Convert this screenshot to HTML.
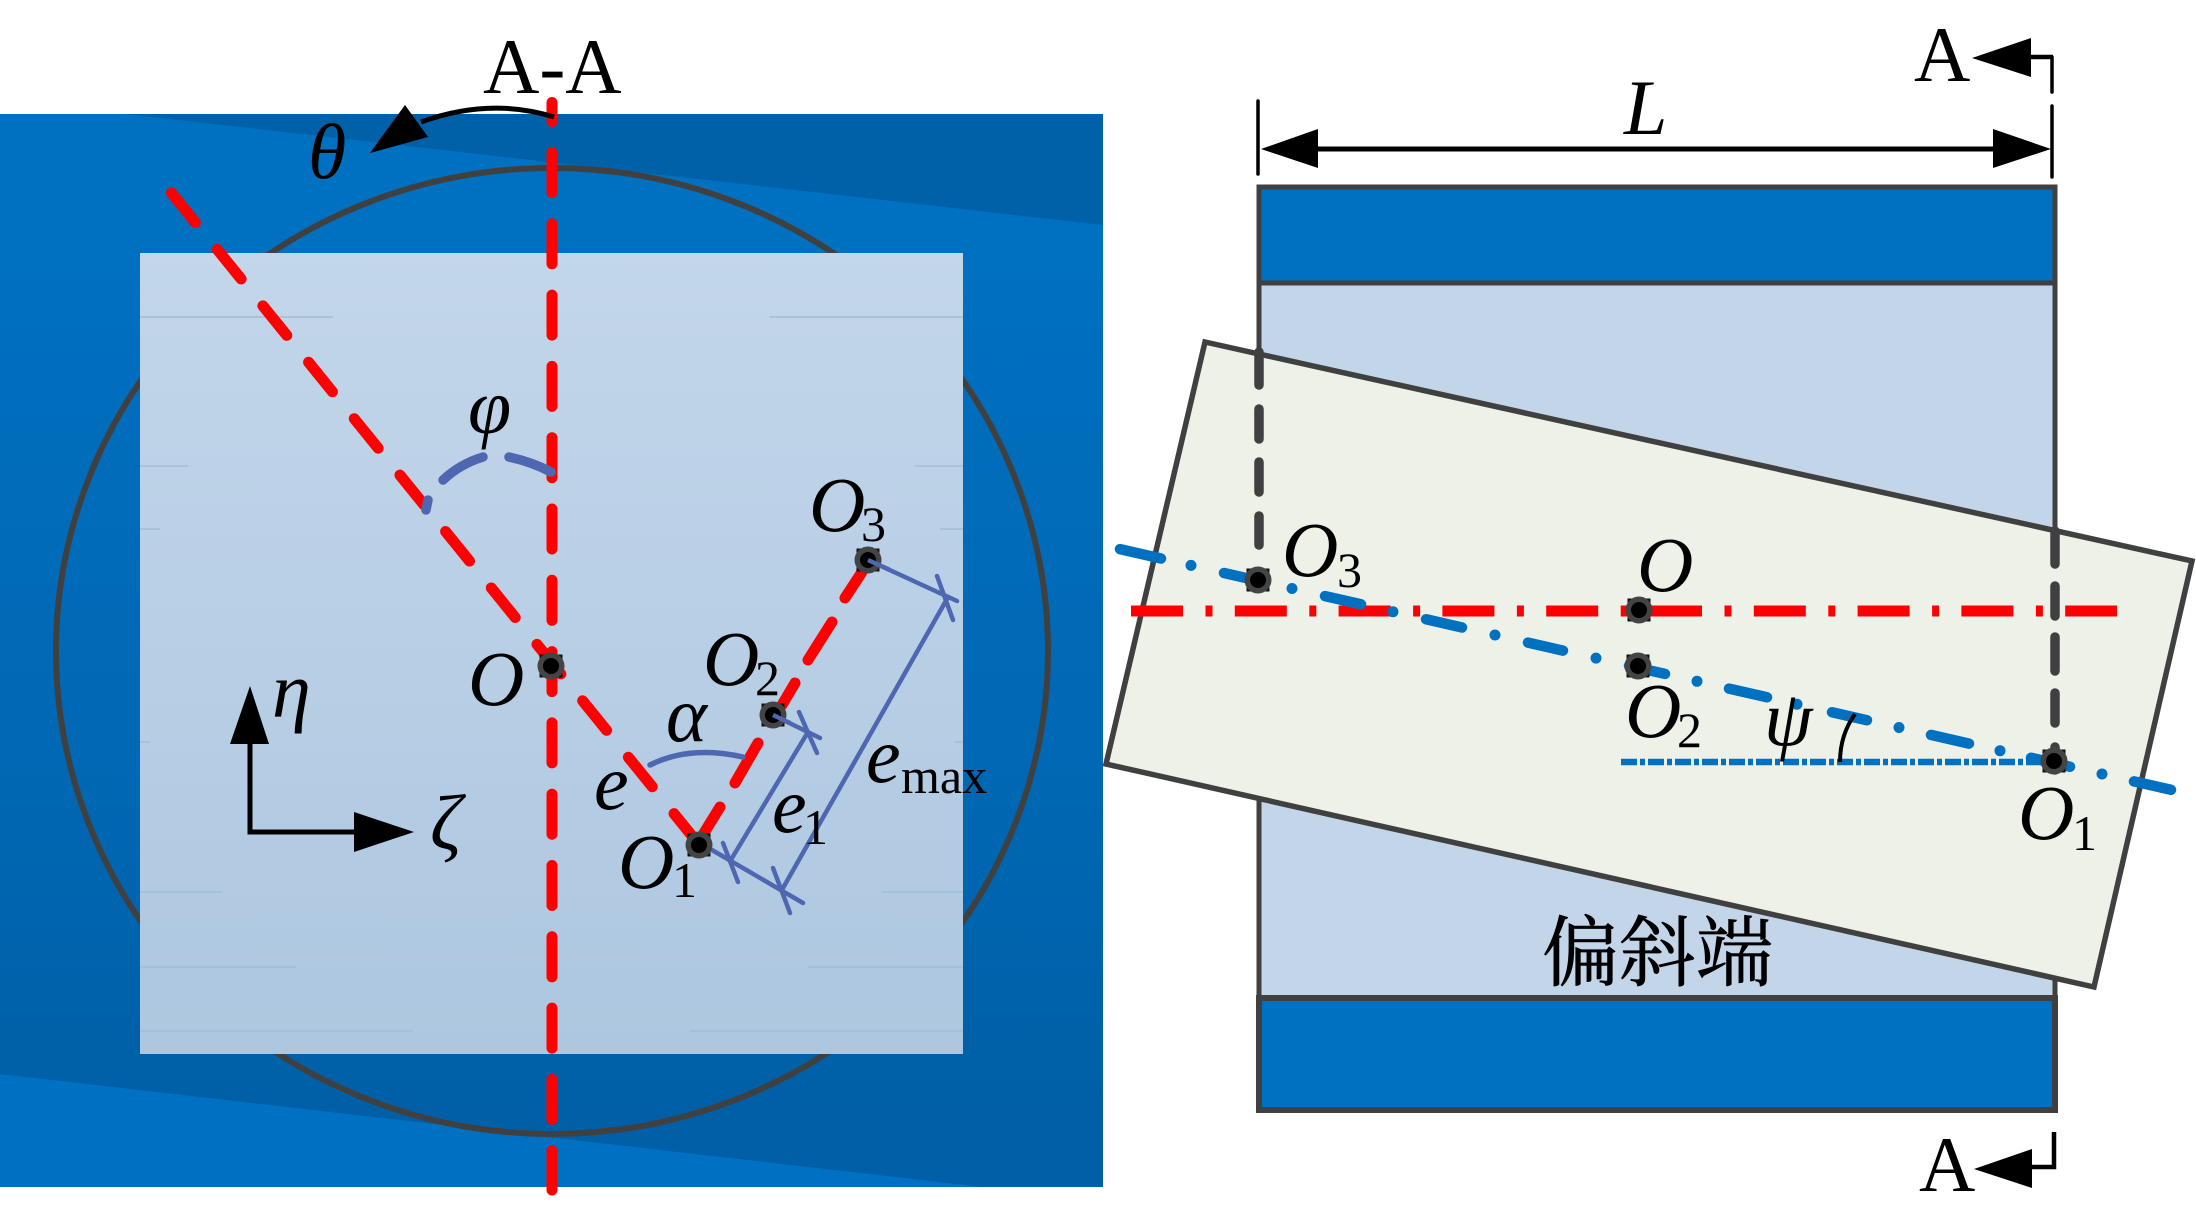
<!DOCTYPE html>
<html><head><meta charset="utf-8">
<style>
html,body{margin:0;padding:0;background:#fff}
svg{display:block}
text{font-family:"Liberation Serif","Noto Serif CJK SC",serif;fill:#000}
.i{font-style:italic;font-size:78px}
.s{font-size:50px}
.m{font-size:78px}
</style></head><body>
<svg width="2196" height="1214" viewBox="0 0 2196 1214" xmlns="http://www.w3.org/2000/svg">
<defs>
<linearGradient id="g" x1="0" y1="0" x2="0" y2="1"><stop offset="0.12" stop-color="#0070c0"/><stop offset="0.6" stop-color="#0068b4"/><stop offset="0.93" stop-color="#005fa6"/></linearGradient>
<linearGradient id="g2" x1="0" y1="0" x2="0" y2="1"><stop offset="0" stop-color="#c3d6ea"/><stop offset="1" stop-color="#adc7e0"/></linearGradient>
<g id="n"><rect x="-11.5" y="-11.5" width="23" height="23" fill="#111"/><circle r="13.5" fill="#444"/><circle r="8" fill="#000"/></g>
</defs>

<!-- left panel -->
<rect x="0" y="114" width="1103" height="1073" fill="url(#g)"/>
<polygon points="126,114 1103,114 1103,225" fill="#0061a9"/>
<polygon points="0,1074 982,1187 0,1187" fill="#0071c2"/>
<ellipse cx="552" cy="651" rx="496" ry="483" fill="none" stroke="#404040" stroke-width="6"/>
<rect x="140" y="253" width="823" height="801" fill="url(#g2)"/>
<g stroke="#a3bcd6" stroke-width="1.5">
<path d="M140 317H333M770 317H963M140 466H188M915 466H963M140 529H160M940 529H963M140 742H150M955 742H963M140 892H222M882 892H963M140 967H296M808 967H963M140 1031H413M690 1031H963" fill="none"/>
</g>

<!-- red lines -->
<g stroke="#ff0000" stroke-width="11" stroke-linecap="round" fill="none">
<path d="M552 102.5V121.5"/>
<path d="M552 152.5V1190" stroke-dasharray="40 31.3"/>
<path d="M171.5 193L697 842" stroke-dasharray="38 34.6"/>
<path d="M720 807L704 833M758 743L735 783M795 683L782 705M832 622L808 660M862 572L845 598"/>
</g>

<!-- blue angles -->
<g fill="none" stroke="#4f67b0" stroke-linecap="round">
<path d="M443 480Q460 464 483 457M509 457Q532 462 551 472M428 500L426 510" stroke-width="9.5"/>
<path d="M650 765Q690 745 743 757" stroke-width="5.5"/>
<g stroke-width="4.5">
<path d="M868 560L957 601M773 715L820 738M712 850L803 903"/>
<path d="M947 599L783 888M808 732L732 858"/>
<path d="M937 576L953 620M799 712L817 753M723 843L738 882M773 868L790 913"/>
</g>
</g>

<!-- theta arrow -->
<path d="M554 117Q490 97 421 122" fill="none" stroke="#000" stroke-width="5"/>
<polygon points="405,105 370,153 428,137" fill="#000"/>

<!-- axes -->
<path d="M250 741V832H354" fill="none" stroke="#000" stroke-width="5"/>
<polygon points="250,686 230,744 269,744" fill="#000"/>
<polygon points="354,812 354,852 414,832" fill="#000"/>

<use href="#n" x="551" y="666"/>
<use href="#n" x="699" y="845"/>
<use href="#n" x="773" y="715"/>
<use href="#n" x="868" y="560"/>
<path d="M868 560L890 570M773 715L790 723" stroke="#4f67b0" stroke-width="4.5"/>

<!-- left text -->
<text class="m" x="483" y="93">A-A</text>
<text class="i" x="308" y="178">θ</text>
<text class="i" x="468" y="433">φ</text>
<text class="i" x="468" y="705">O</text>
<text class="i" x="618" y="888">O</text>
<text class="s" x="672" y="897">1</text>
<text class="i" x="703" y="685">O</text>
<text class="s" x="755" y="695">2</text>
<text class="i" x="809" y="531">O</text>
<text class="s" x="861" y="541">3</text>
<text class="i" x="594" y="809">e</text>
<text class="i" x="666" y="741">α</text>
<text class="i" x="272" y="717">η</text>
<text class="i" x="430" y="849">ζ</text>
<text class="i" x="772" y="832">e</text>
<text class="s" x="803" y="844">1</text>
<text class="i" x="866" y="782">e</text>
<text class="s" x="901" y="793">max</text>

<!-- right panel -->
<rect x="1259" y="187" width="796" height="96" fill="#0070c0" stroke="#404040" stroke-width="5"/>
<rect x="1259" y="283" width="796" height="715" fill="#c3d5e9" stroke="#404040" stroke-width="5"/>
<rect x="1259" y="998" width="796" height="112" fill="#0070c0" stroke="#404040" stroke-width="6"/>
<polygon points="1205,342 2192,561 2094,987 1106,764" fill="#eef1e8" stroke="#404040" stroke-width="5.5"/>

<!-- dark dashes -->
<g stroke="#404040" stroke-width="9.5" stroke-linecap="round" fill="none">
<path d="M1259 352V385M1259 409V439M1259 462V492M1259 516V545"/>
<path d="M2055 531V564M2055 586V616M2055 637V671M2055 693V723M2055 747V770"/>
</g>

<!-- L dimension -->
<path d="M1310 149H2000" stroke="#000" stroke-width="5"/>
<polygon points="1261,149 1318,129 1318,168" fill="#000"/>
<polygon points="2051,149 1993,129 1993,168" fill="#000"/>
<g stroke="#000" stroke-width="3.5" stroke-linecap="round" fill="none">
<path d="M1258 101V174M2052 106V177M2052 57V92"/>
</g>
<path d="M2025 57H2053" stroke="#000" stroke-width="4.5"/>
<polygon points="1972,58 2031,38 2031,77" fill="#000"/>
<path d="M2054 1132V1167H2025" stroke="#000" stroke-width="4.5" fill="none"/>
<polygon points="1974,1169 2032,1149 2032,1188" fill="#000"/>

<!-- dash-dot lines -->
<path d="M1131 611H2117" stroke="#ff0000" stroke-width="11" stroke-dasharray="52 22.5 7 22.3" fill="none"/>
<path d="M1621 762H2056" stroke="#0070c0" stroke-width="6.5" stroke-dasharray="16 3 5 3" fill="none"/>
<g stroke="#0070c0" stroke-width="10.5" stroke-linecap="round" fill="none">
<path d="M1120 549.1L1161 558.5M1224 573L1263 581.9M1325 596.1L1361 604.3M1426 619.2L1462 627.5M1528 642.6L1563 650.6M1629 665.7L1665 673.9M1729 688.6L1767 697.3M1832 712.2L1867 720.2M1931 734.9L1969 743.6M2031 757.8L2070 766.7M2134 781.4L2171 789.8"/>
</g>
<g fill="#0070c0">
<circle cx="1191" cy="565.4" r="5.5"/><circle cx="1292" cy="588.5" r="5.5"/><circle cx="1393" cy="611.7" r="5.5"/><circle cx="1495" cy="635" r="5.5"/><circle cx="1596" cy="658.1" r="5.5"/><circle cx="1697" cy="681.3" r="5.5"/><circle cx="1797" cy="704.2" r="5.5"/><circle cx="1899" cy="727.5" r="5.5"/><circle cx="2000" cy="750.7" r="5.5"/><circle cx="2102" cy="774" r="5.5"/>
</g>

<path d="M1855 714Q1840 735 1840 762" fill="none" stroke="#000" stroke-width="4"/>

<use href="#n" x="1258" y="580"/>
<use href="#n" x="1639" y="610"/>
<use href="#n" x="1638" y="666"/>
<use href="#n" x="2054" y="761"/>

<!-- right text -->
<text class="m" x="1914" y="81">A</text>
<text class="m" x="1919" y="1191">A</text>
<text class="i" x="1624" y="134">L</text>
<text class="i" x="1637" y="591">O</text>
<text class="i" x="1282" y="576">O</text>
<text class="s" x="1337" y="587">3</text>
<text class="i" x="1625" y="737">O</text>
<text class="s" x="1677" y="747">2</text>
<text class="i" x="2018" y="839">O</text>
<text class="s" x="2072" y="850">1</text>
<text class="i" x="1764" y="745">ψ</text>
<text x="1542" y="980" style="font-family:'Noto Serif CJK SC','Liberation Serif',serif;font-size:77px;stroke:#000;stroke-width:0.8">偏斜端</text>
</svg>
</body></html>
